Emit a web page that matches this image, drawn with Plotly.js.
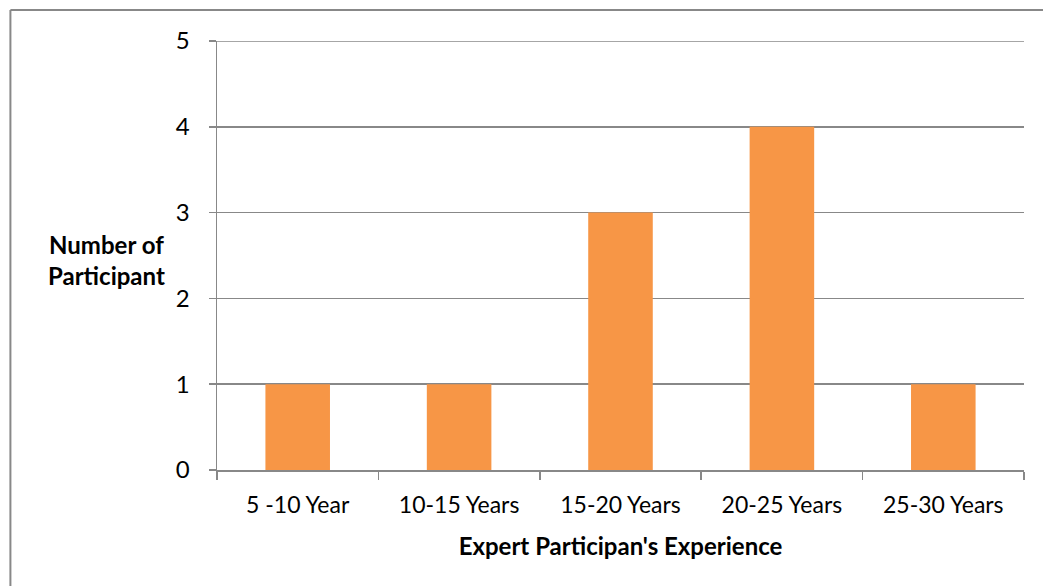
<!DOCTYPE html>
<html>
<head>
<meta charset="utf-8">
<script src="https://cdn.plot.ly/plotly-3.0.1.min.js"></script>
<style>
  html, body { margin: 0; padding: 0; background: #fff; }
  #chart { width: 1043px; height: 586px; }
</style>
</head>
<body>
<div id="chart"></div>
<script>
// Experience bands and number of experts in each
const categories = ['5 -10 Year', '10-15 Years', '15-20 Years', '20-25 Years', '25-30 Years'];
const participants = [1, 1, 3, 4, 1];
const yTicks = [0, 1, 2, 3, 4, 5];

const fontFamily = 'Lato, "Open Sans", sans-serif';
const gray = '#888888';
const yMax = yTicks[yTicks.length - 1];

const trace = {
  type: 'bar',
  x: categories,
  y: participants,
  marker: { color: '#F79646' },
  hoverinfo: 'x+y'
};

const layout = {
  width: 1043,
  height: 586,
  margin: { l: 217, r: 19, t: 41, b: 116 },
  paper_bgcolor: '#ffffff',
  plot_bgcolor: '#ffffff',
  bargap: 0.6,
  showlegend: false,
  font: { family: fontFamily, size: 24, color: '#000000' },
  xaxis: {
    type: 'category',
    showgrid: false,
    showline: true,
    linecolor: gray,
    linewidth: 1.5,
    ticks: 'outside',
    tickson: 'boundaries',
    ticklen: 8,
    tickcolor: gray,
    tickwidth: 1.5,
    tickfont: { family: fontFamily, size: 23, color: '#000' },
    ticklabelstandoff: 14,
    title: {
      text: "<b>Expert Participan's Experience</b>",
      font: { family: fontFamily, size: 24, color: '#000' },
      standoff: 21
    }
  },
  yaxis: {
    range: [0, yMax],
    tickvals: yTicks,
    showgrid: true,
    gridcolor: gray,
    gridwidth: 1.5,
    showline: true,
    linecolor: gray,
    linewidth: 1.5,
    ticks: 'outside',
    ticklen: 7,
    tickcolor: gray,
    tickwidth: 1.5,
    tickfont: { family: fontFamily, size: 24, color: '#000' },
    ticklabelstandoff: 14,
    zeroline: false,
    fixedrange: true
  },
  annotations: [{
    xref: 'paper', yref: 'paper',
    x: -0.137, y: 0.49,
    xanchor: 'center', yanchor: 'middle',
    text: '<b>Number of<br>Participant</b>',
    showarrow: false,
    align: 'center',
    font: { family: fontFamily, size: 24, color: '#000' }
  }],
  shapes: [
    // top gridline at the axis maximum
    { type: 'line', xref: 'paper', yref: 'y', x0: 0, x1: 1, y0: yMax, y1: yMax,
      line: { color: gray, width: 1.5 }, layer: 'below' },
    // frame edges along the top and left of the figure
    { type: 'line', xref: 'paper', yref: 'paper', x0: -0.256, x1: 1.03, y0: 1.072, y1: 1.072,
      line: { color: gray, width: 2 } },
    { type: 'line', xref: 'paper', yref: 'paper', x0: -0.256, x1: -0.256, y0: 1.072, y1: -0.3,
      line: { color: gray, width: 2 } }
  ]
};

Plotly.newPlot('chart', [trace], layout, { displayModeBar: false, staticPlot: true });
</script>
</body>
</html>
